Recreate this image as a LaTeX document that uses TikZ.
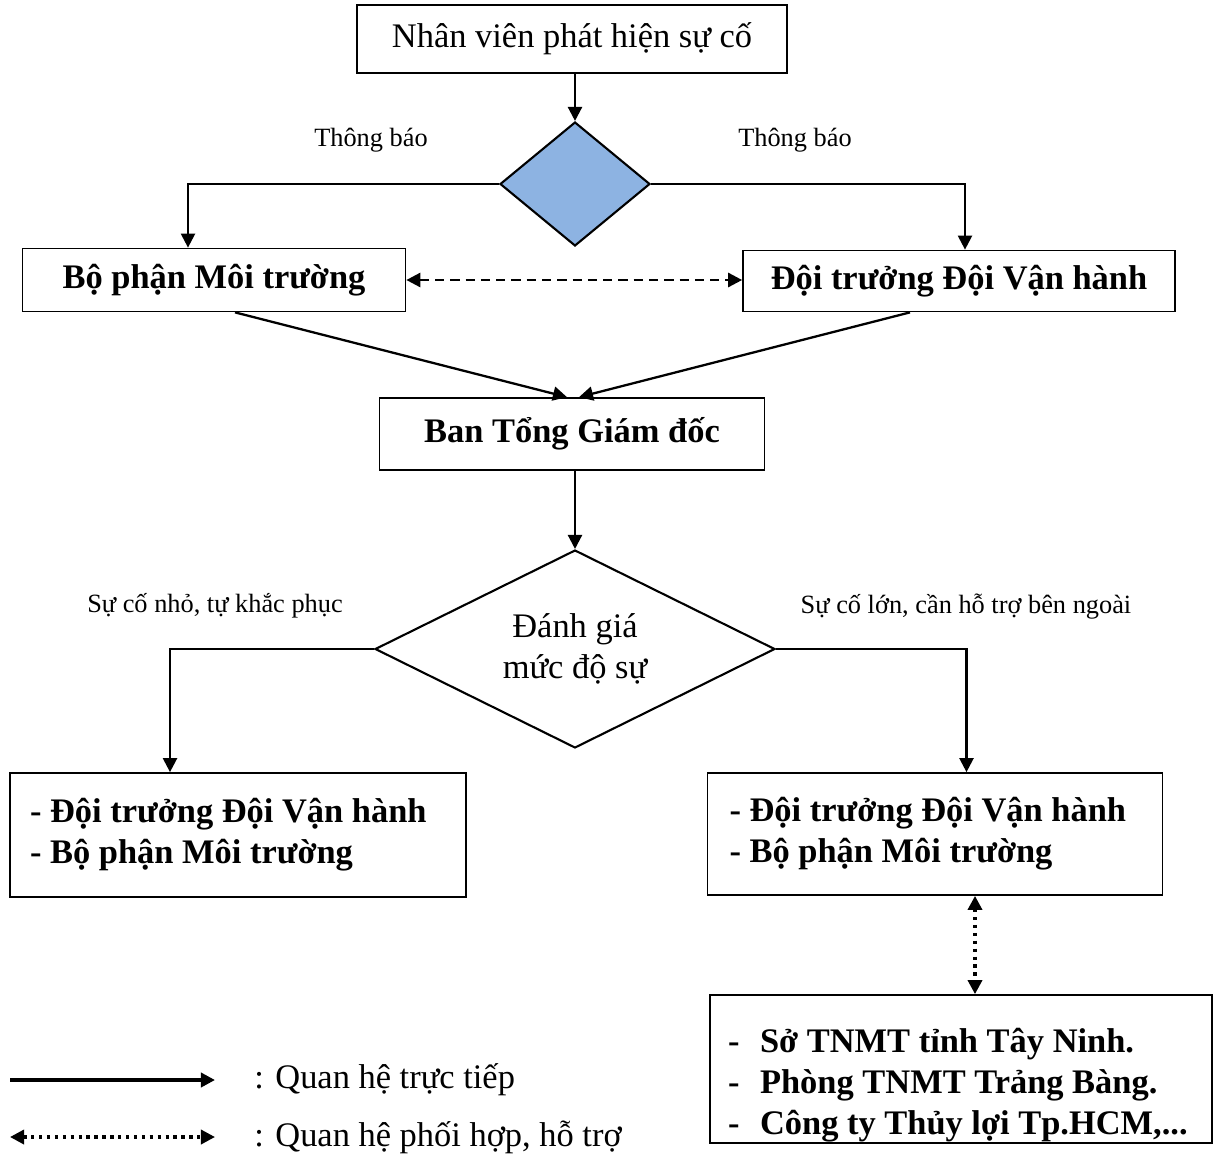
\documentclass[tikz,border=0pt]{standalone}
\usepackage{fontspec}
\setmainfont{Liberation Serif}
\usetikzlibrary{shapes.geometric,arrows.meta}
\definecolor{hoiblue}{HTML}{8DB3E2}

\begin{document}
\begin{tikzpicture}[x=0.02cm,y=-0.02cm,
txt/.style={inner sep=0pt,font=\fontsize{19.6}{23.5}\selectfont},
box/.style={txt,draw,line width=1pt},
bbox/.style={box,font=\fontsize{19.6}{23.5}\selectfont\bfseries},
decision/.style={draw,diamond,line width=1.2pt,inner sep=0pt,aspect=1},
lbl/.style={inner sep=0pt,font=\fontsize{15}{18}\selectfont},
tip/.tip={Triangle[length=8pt,width=8pt]},
arr/.style={line width=1.3pt,-tip},
darr/.style={line width=1.5pt,dash pattern=on 5.3pt off 3.4pt,tip-tip},
dotarr/.style={line width=1.9pt,dash pattern=on 1.9pt off 2.6pt,tip-tip}
]
\useasboundingbox (0,0) rectangle (1217,1153);

% cac khoi
\node[box,minimum width=8.6cm,minimum height=1.36cm] (nv) at (572,39) {Nhân viên phát hiện sự cố};
\node[decision,fill=hoiblue,minimum width=3cm,minimum height=2.48cm] (tb) at (575,184) {};
\node[bbox,minimum width=7.66cm,minimum height=1.26cm] (mt) at (214,280) {Bộ phận Môi trường};
\node[bbox,minimum width=8.64cm,minimum height=1.22cm] (dt) at (959,281) {Đội trưởng Đội Vận hành};
\node[bbox,minimum width=7.7cm,minimum height=1.44cm] (tgd) at (572,434) {Ban Tổng Giám đốc};
\node[decision,txt,draw,aspect=2.02,minimum width=8cm,minimum height=3.96cm,align=center] (dg) at (575,649) {Đánh giá\\mức độ sự};
\node[bbox,minimum width=9.12cm,minimum height=2.48cm,text width=8.32cm,align=flush left] (kp) at (238,835)
  {- Đội trưởng Đội Vận hành\\- Bộ phận Môi trường\par\vspace{12pt}};
\node[bbox,minimum width=9.1cm,minimum height=2.44cm,text width=8.22cm,align=flush left] (kp2) at (935,834)
  {- Đội trưởng Đội Vận hành\\- Bộ phận Môi trường\par\vspace{12pt}};
\node[bbox,minimum width=10.04cm,minimum height=2.96cm,text width=9.32cm,align=flush left] (ng) at (961,1069)
  {\rule{0pt}{32pt}\makebox[0.64cm][l]{-}Sở TNMT tỉnh Tây Ninh.\\
   \makebox[0.64cm][l]{-}Phòng TNMT Trảng Bàng.\\
   \makebox[0.64cm][l]{-}Công ty Thủy lợi Tp.HCM,...};

% nhan
\node[lbl] (tb1) at (371,140) {Thông báo};
\node[lbl] (tb2) at (795,140) {Thông báo};
\node[lbl] (nho) at (215,606) {Sự cố nhỏ, tự khắc phục};
\node[lbl] (lon) at (966,607) {Sự cố lớn, cần hỗ trợ bên ngoài};

% mui ten
\draw[arr] (tb.north |- nv.south) -- (tb.north);
\draw[arr] (tb.west) -| ([xshift=-0.52cm]mt.north);
\draw[arr] (tb.east) -| ([xshift=0.12cm]dt.north);
\draw[darr] (mt.east) -- (mt.east -| dt.west);
\draw[arr] ([xshift=0.42cm]mt.south) -- ([xshift=-0.1cm]tgd.north);
\draw[arr] ([xshift=-0.98cm]dt.south) -- ([xshift=0.14cm]tgd.north);
\draw[arr] (dg.north |- tgd.south) -- (dg.north);
\draw[arr] (dg.west) -| ([xshift=-1.36cm]kp.north);
\draw[arr] (dg.east) -| ([xshift=0.63cm]kp2.north);
\draw[dotarr] ([xshift=0.8cm]kp2.south) -- ([xshift=0.8cm]kp2.south |- ng.north);

% chu thich
\coordinate (l1) at (10,1080);
\coordinate (r1) at (215,1080);
\draw[arr,line width=2pt] (l1) -- (r1);
\node[txt,anchor=west] (q1) at (254,1080) {: Quan hệ trực tiếp};
\coordinate (l2) at (10,1137);
\coordinate (r2) at (215,1137);
\draw[dotarr] (l2) -- (r2);
\node[txt,anchor=west] (q2) at (254,1137) {: Quan hệ phối hợp, hỗ trợ};
\end{tikzpicture}
\end{document}
